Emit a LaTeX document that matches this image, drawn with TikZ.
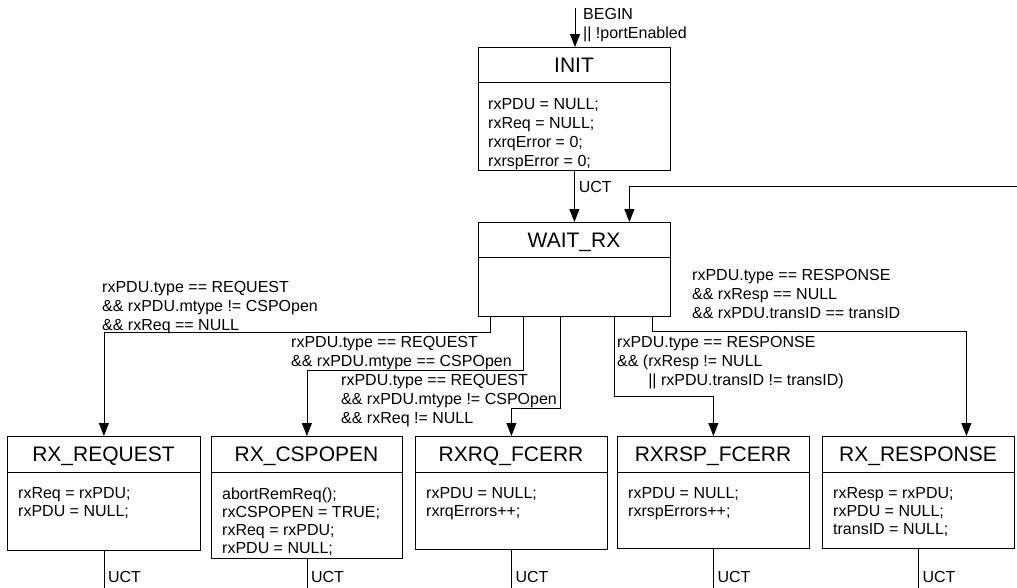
\documentclass[tikz,border=0pt]{standalone}
\usepackage{fontspec}
\setmainfont{Liberation Sans}
\usepackage{tikz}
\usetikzlibrary{arrows.meta,positioning,calc}

\begin{document}
\begin{tikzpicture}[x=1pt,y=-1pt,
    state/.style={draw, line width=0.8pt, inner sep=0pt, anchor=north west},
    stname/.style={font=\fontsize{21}{25}\selectfont, anchor=base, inner sep=0pt},
    stbody/.style={font=\fontsize{16}{18}\selectfont, align=left, anchor=north west, inner sep=0pt},
    guard/.style={font=\fontsize{16}{19}\selectfont, align=left, anchor=north west, inner sep=0pt},
    wire/.style={line width=0.8pt},
    trans/.style={wire, -{Triangle[length=13pt,width=10pt]}}]
  \path[use as bounding box, fill=white] (0,0) rectangle (1017,587);

  % states
  \node[state, minimum width=192pt, minimum height=123pt] (init) at (478,47) {};
  \node[stname] (initname) at (574,72) {INIT};
  \draw[wire] (478,82) -- (670,82);
  \node[stbody, font=\fontsize{16}{19}\selectfont] (initbody) at (488,98.5) {rxPDU = NULL;\\ rxReq = NULL;\\ rxrqError = 0;\\ rxrspError = 0;};

  \node[state, minimum width=192pt, minimum height=94pt] (waitrx) at (478,222) {};
  \node[stname] (waitrxname) at (574,247) {WAIT\_RX};
  \draw[wire] (478,257) -- (670,257);

  \node[state, minimum width=193pt, minimum height=114pt] (rxreq) at (7,436) {};
  \node[stname] (rxreqname) at (103.5,461.5) {RX\_REQUEST};
  \draw[wire] (7,472) -- (200,472);
  \node[stbody] (rxreqbody) at (18,487.5) {rxReq = rxPDU;\\ rxPDU = NULL;};

  \node[state, minimum width=191pt, minimum height=122pt] (rxcsp) at (211,436) {};
  \node[stname] (rxcspname) at (306.5,461.5) {RX\_CSPOPEN};
  \draw[wire] (211,472) -- (402,472);
  \node[stbody] (rxcspbody) at (222,487.5) {abortRemReq();\\ rxCSPOPEN = TRUE;\\ rxReq = rxPDU;\\ rxPDU = NULL;};

  \node[state, minimum width=192pt, minimum height=113pt] (rxrqerr) at (415,436) {};
  \node[stname] (rxrqerrname) at (511,461.5) {RXRQ\_FCERR};
  \draw[wire] (415,472) -- (607,472);
  \node[stbody] (rxrqerrbody) at (426,487.5) {rxPDU = NULL;\\ rxrqErrors++;};

  \node[state, minimum width=192pt, minimum height=112pt] (rxrsperr) at (617,436) {};
  \node[stname] (rxrsperrname) at (713,461.5) {RXRSP\_FCERR};
  \draw[wire] (617,472) -- (809,472);
  \node[stbody] (rxrsperrbody) at (628,487.5) {rxPDU = NULL;\\ rxrspErrors++;};

  \node[state, minimum width=192pt, minimum height=112pt] (rxresp) at (822,436) {};
  \node[stname] (rxrespname) at (918,461.5) {RX\_RESPONSE};
  \draw[wire] (822,472) -- (1014,472);
  \node[stbody] (rxrespbody) at (833,487.5) {rxResp = rxPDU;\\ rxPDU = NULL;\\ transID = NULL;};

  % transitions
  \coordinate (start) at (575,8);
  \draw[trans] (start) -- (start |- init.north);
  \node[guard] (begin) at (583,8) {BEGIN\\ || !portEnabled};

  \draw[trans] (init.south) -- node[guard, anchor=west, pos=0.31, xshift=4pt] (uctinit) {UCT} (waitrx.north);
  \coordinate (back) at (1017,186);
  \draw[trans] (back) -| ([xshift=55pt]waitrx.north);

  \draw[trans] ([xshift=12pt]waitrx.south west) -- ++(0,16) -| (rxreq.north);
  \node[guard] (g1) at (102,281) {rxPDU.type == REQUEST\\ \&\& rxPDU.mtype != CSPOpen\\ \&\& rxReq == NULL};

  \draw[trans] ([xshift=45pt]waitrx.south west) -- ++(0,54) -| (rxcsp.north);
  \node[guard] (g2) at (291,336) {rxPDU.type == REQUEST\\ \&\& rxPDU.mtype == CSPOpen};

  \draw[trans] ([xshift=82pt]waitrx.south west) -- ++(0,92) -| (rxrqerr.north);
  \node[guard] (g3) at (341,374) {rxPDU.type == REQUEST\\ \&\& rxPDU.mtype != CSPOpen\\ \&\& rxReq != NULL};

  \draw[trans] ([xshift=136pt]waitrx.south west) -- ++(0,80) -| (rxrsperr.north);
  \node[guard] (g4) at (617,336) {rxPDU.type == RESPONSE\\ \&\& (rxResp != NULL\\ \phantom{\&\& (}|| rxPDU.transID != transID)};

  \draw[trans] ([xshift=174pt]waitrx.south west) -- ++(0,15) -| ([xshift=48pt]rxresp.north);
  \node[guard] (g5) at (692,269) {rxPDU.type == RESPONSE\\ \&\& rxResp == NULL\\ \&\& rxPDU.transID == transID};

  \foreach \s in {rxreq,rxcsp,rxrqerr,rxrsperr,rxresp}{
    \coordinate (\s-out) at (\s.south |- 0,590);
    \draw[wire] (\s.south) -- (\s-out);
    \path (\s.south |- 0,577) node[guard, anchor=west, xshift=4pt] (\s-uct) {UCT};
  }
\end{tikzpicture}
\end{document}
